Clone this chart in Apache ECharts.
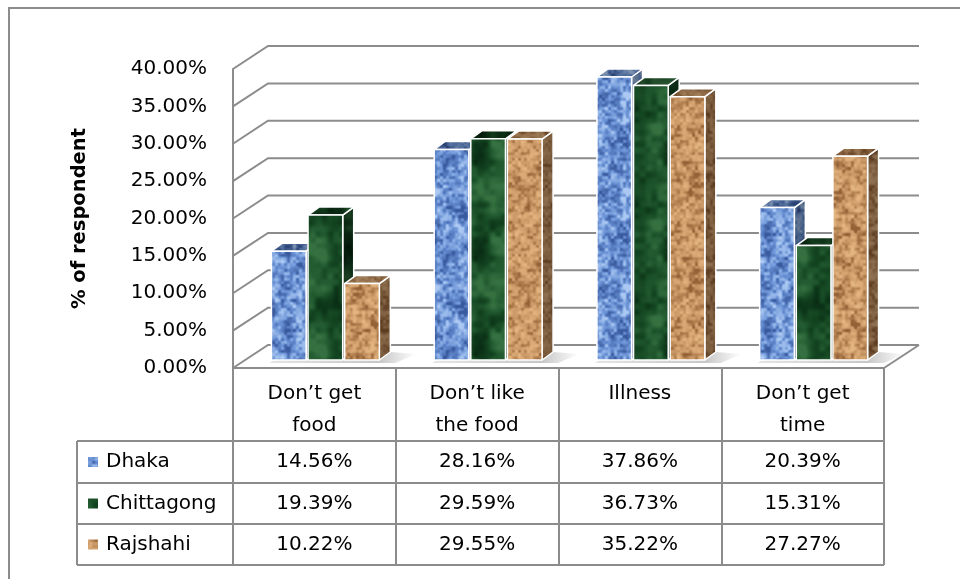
<!DOCTYPE html>
<html>
<head>
<meta charset="utf-8">
<script src="https://cdn.jsdelivr.net/npm/echarts/dist/echarts.min.js"></script>
<style>
html,body{margin:0;padding:0;background:#fff;}
#chart{width:960px;height:579px;}
</style>
</head>
<body>
<div id="chart"></div>
<script>
// ---- data ----
const categories = ['Don\u2019t get\nfood', 'Don\u2019t like\nthe food', 'Illness', 'Don\u2019t get\ntime'];
const seriesNames = ['Dhaka', 'Chittagong', 'Rajshahi'];
const dhaka = [14.56, 28.16, 37.86, 20.39];
const chittagong = [19.39, 29.59, 36.73, 15.31];
const rajshahi = [10.22, 29.55, 35.22, 27.27];
const yTicks = [0, 5, 10, 15, 20, 25, 30, 35, 40];
const yAxisTitle = '% of respondent';

const seriesValues = [dhaka, chittagong, rajshahi];
const FONT = 'DejaVu Sans';
const LINE = '#8c8c8c';

// ---- deterministic texture generation (styling only) ----
function hash2(x, y, s) {
  let h = Math.imul(x + 1013, 374761393) ^ Math.imul(y + 7919, 668265263) ^ Math.imul(s + 31, 1274126177);
  h = Math.imul(h ^ (h >>> 13), 1103515245);
  h ^= h >>> 16;
  return (h >>> 0) / 4294967296;
}
function vnoise(px, py, cell, seed, N) {
  const per = Math.round(N / cell);
  const gx = px / cell, gy = py / cell;
  const x0 = Math.floor(gx), y0 = Math.floor(gy);
  const fx = gx - x0, fy = gy - y0;
  const sx = fx * fx * (3 - 2 * fx), sy = fy * fy * (3 - 2 * fy);
  const a = hash2(x0 % per, y0 % per, seed), b = hash2((x0 + 1) % per, y0 % per, seed);
  const c = hash2(x0 % per, (y0 + 1) % per, seed), d = hash2((x0 + 1) % per, (y0 + 1) % per, seed);
  return a + (b - a) * sx + (c - a) * sy + (a - b - c + d) * sx * sy;
}
function makeTexture(dark, mid, light, cells, weights, seed, factor) {
  const N = 96;
  const cv = document.createElement('canvas');
  cv.width = N; cv.height = N;
  const ctx = cv.getContext('2d');
  const img = ctx.createImageData(N, N);
  for (let y = 0; y < N; y++) {
    for (let x = 0; x < N; x++) {
      let t = 0;
      for (let k = 0; k < cells.length; k++) t += weights[k] * vnoise(x, y, cells[k], seed + k, N);
      t = Math.max(0, Math.min(1, (t - 0.5) * 1.8 + 0.5));
      let c;
      if (t < 0.5) { const u = t * 2; c = dark.map((v, i) => v + (mid[i] - v) * u); }
      else { const u = (t - 0.5) * 2; c = mid.map((v, i) => v + (light[i] - v) * u); }
      const o = (y * N + x) * 4;
      img.data[o] = c[0] * factor; img.data[o + 1] = c[1] * factor; img.data[o + 2] = c[2] * factor; img.data[o + 3] = 255;
    }
  }
  ctx.putImageData(img, 0, 0);
  return cv;
}
const palettes = [
  { dark: [58, 90, 158], mid: [105, 145, 212], light: [170, 200, 242], cells: [3, 6, 12], w: [0.45, 0.35, 0.2], seed: 11 },
  { dark: [6, 38, 16], mid: [22, 74, 36], light: [52, 112, 64], cells: [6, 16, 32], w: [0.25, 0.4, 0.35], seed: 37 },
  { dark: [148, 98, 54], mid: [200, 150, 100], light: [226, 180, 128], cells: [3, 6, 12], w: [0.45, 0.35, 0.2], seed: 71 }
];
const tex = palettes.map(p => ({
  front: { image: makeTexture(p.dark, p.mid, p.light, p.cells, p.w, p.seed, 1), repeat: 'repeat' },
  side: { image: makeTexture(p.dark, p.mid, p.light, p.cells, p.w, p.seed + 5, 0.62), repeat: 'repeat' },
  top: { image: makeTexture(p.dark, p.mid, p.light, p.cells, p.w, p.seed + 9, 0.72), repeat: 'repeat' }
}));

// ---- layout ----
const FRONT = { left: 233, right: 884, top: 69, bottom: 368 };
const BAR_DX = 11, BAR_DY = -8;     // bar plane offset from front plane
const BACK_DX = 35, BACK_DY = -23;  // back wall offset from front plane
const SIDE_DX = 11, SIDE_DY = -8;   // bar depth
const TABLE = { legendLeft: 77, rows: [441, 483, 524, 565] };

function wallRender(params, api) {
  const cs = params.coordSys;
  const p = api.coord([0, api.value(1)]);
  const x0 = cs.x, x1 = cs.x + cs.width, y = p[1];
  const children = [{
    type: 'polyline',
    shape: { points: [[x0, y], [x0 + BACK_DX, y + BACK_DY], [x1 + BACK_DX, y + BACK_DY]] },
    style: { stroke: LINE, lineWidth: 2, fill: null }
  }];
  if (api.value(1) === 0) {
    children.push({
      type: 'line',
      shape: { x1: x1, y1: y, x2: x1 + BACK_DX, y2: y + BACK_DY },
      style: { stroke: LINE, lineWidth: 2 }
    });
  }
  return { type: 'group', children: children };
}

function geom(api, j) {
  const base = api.coord([api.value(0), 0]);
  const top = api.coord([api.value(0), api.value(1)]);
  const band = api.size([1, 0])[0];
  const bw = band * 0.213, gap = band * 0.012;
  const cx = base[0] + (j - 1) * (bw + gap);
  return { x0: cx - bw / 2, x1: cx + bw / 2, yb: base[1], yt: top[1], bw: bw, gap: gap, cx0: base[0] };
}

function makeBarRender(j) {
  return function (params, api) {
    const g = geom(api, j);
    const t = tex[j];
    const st = { stroke: '#ffffff', lineWidth: 1.5, lineJoin: 'round' };
    return {
      type: 'group',
      children: [
        { type: 'polygon', shape: { points: [[g.x1, g.yt], [g.x1 + SIDE_DX, g.yt + SIDE_DY], [g.x1 + SIDE_DX, g.yb + SIDE_DY], [g.x1, g.yb]] },
          style: Object.assign({ fill: t.side }, st) },
        { type: 'polygon', shape: { points: [[g.x0, g.yt], [g.x0 + SIDE_DX, g.yt + SIDE_DY], [g.x1 + SIDE_DX, g.yt + SIDE_DY], [g.x1, g.yt]] },
          style: Object.assign({ fill: t.top }, st) },
        { type: 'rect', shape: { x: g.x0, y: g.yt, width: g.bw, height: g.yb - g.yt },
          style: Object.assign({ fill: t.front }, st) }
      ]
    };
  };
}

function shadowRender(params, api) {
  const gL = geom(api, 0), gR = geom(api, 2);
  return {
    type: 'polygon',
    shape: { points: [[gL.x0 + 4, gR.yb - 1], [gR.x1 + SIDE_DX, gR.yb + SIDE_DY], [gR.x1 + SIDE_DX + 26, gR.yb + SIDE_DY + 2], [gR.x1 + 16, gR.yb + 3], [gL.x0 - 2, gR.yb + 3]] },
    style: {
      fill: { type: 'linear', x: 0, y: 0, x2: 1, y2: 0,
        colorStops: [{ offset: 0, color: 'rgba(0,0,0,0.10)' }, { offset: 0.75, color: 'rgba(0,0,0,0.22)' }, { offset: 1, color: 'rgba(0,0,0,0)' }] }
    }
  };
}

// ---- table graphics ----
const colW = (FRONT.right - FRONT.left) / categories.length;
const graphics = [];
graphics.push({ type: 'rect', shape: { x: 9, y: 8, width: 980, height: 600 }, style: { stroke: LINE, lineWidth: 2, fill: null }, z: 0 });
TABLE.rows.forEach(y => {
  graphics.push({ type: 'line', shape: { x1: TABLE.legendLeft, y1: y, x2: FRONT.right, y2: y }, style: { stroke: LINE, lineWidth: 2 } });
});
graphics.push({ type: 'line', shape: { x1: TABLE.legendLeft, y1: TABLE.rows[0], x2: TABLE.legendLeft, y2: TABLE.rows[3] }, style: { stroke: LINE, lineWidth: 2 } });
seriesNames.forEach((name, j) => {
  const yc = (TABLE.rows[j] + TABLE.rows[j + 1]) / 2;
  graphics.push({ type: 'rect', shape: { x: 88, y: yc - 5, width: 10, height: 10 }, style: { fill: tex[j].front } });
  graphics.push({ type: 'text', x: 106, y: yc, style: { text: name, font: '20px "' + FONT + '"', fill: '#000', textAlign: 'left', textVerticalAlign: 'middle' } });
  seriesValues[j].forEach((v, i) => {
    graphics.push({ type: 'text', x: FRONT.left + colW * (i + 0.5), y: yc,
      style: { text: v.toFixed(2) + '%', font: '20px "' + FONT + '"', fill: '#000', textAlign: 'center', textVerticalAlign: 'middle' } });
  });
});

const chart = echarts.init(document.getElementById('chart'));
chart.setOption({
  animation: false,
  backgroundColor: '#ffffff',
  grid: [
    { left: FRONT.left, right: 960 - FRONT.right, top: FRONT.top, bottom: 579 - FRONT.bottom },
    { left: FRONT.left + BAR_DX, right: 960 - FRONT.right - BAR_DX, top: FRONT.top + BAR_DY, bottom: 579 - FRONT.bottom - BAR_DY }
  ],
  xAxis: [
    { type: 'category', gridIndex: 0, data: categories, boundaryGap: true,
      axisLine: { show: true, lineStyle: { color: LINE, width: 2 } },
      axisTick: { show: true, length: 197, lineStyle: { color: LINE, width: 2 } },
      axisLabel: { fontFamily: FONT, fontSize: 20, color: '#000', lineHeight: 32, margin: 10, interval: 0 },
      splitLine: { show: false } },
    { type: 'category', gridIndex: 1, data: categories, show: false }
  ],
  yAxis: [
    { type: 'value', gridIndex: 0, min: 0, max: 40, interval: 5,
      name: yAxisTitle, nameLocation: 'middle', nameGap: 143,
      nameTextStyle: { fontFamily: FONT, fontSize: 19.5, fontWeight: 'bold', color: '#000' },
      axisLine: { show: true, lineStyle: { color: LINE, width: 2 } },
      axisTick: { show: false },
      splitLine: { show: false },
      axisLabel: { fontFamily: FONT, fontSize: 20, color: '#000', margin: 26, formatter: v => v.toFixed(2) + '%' } },
    { type: 'value', gridIndex: 1, min: 0, max: 40, interval: 5, show: false, splitLine: { show: false } }
  ],
  series: [
    { type: 'custom', name: 'wall', xAxisIndex: 0, yAxisIndex: 0, silent: true, z: 1,
      data: yTicks.map(v => [0, v]), renderItem: wallRender, encode: { x: 0, y: 1 } },
    { type: 'custom', name: 'shadow', xAxisIndex: 1, yAxisIndex: 1, silent: true, z: 2,
      data: categories.map((c, i) => [i, 0]), renderItem: shadowRender, encode: { x: 0, y: 1 } },
    ...seriesNames.map((name, j) => ({
      type: 'custom', name: name, xAxisIndex: 1, yAxisIndex: 1, z: 3,
      data: seriesValues[j].map((v, i) => [i, v]), renderItem: makeBarRender(j), encode: { x: 0, y: 1 }
    }))
  ],
  graphic: graphics
});
</script>
</body>
</html>
